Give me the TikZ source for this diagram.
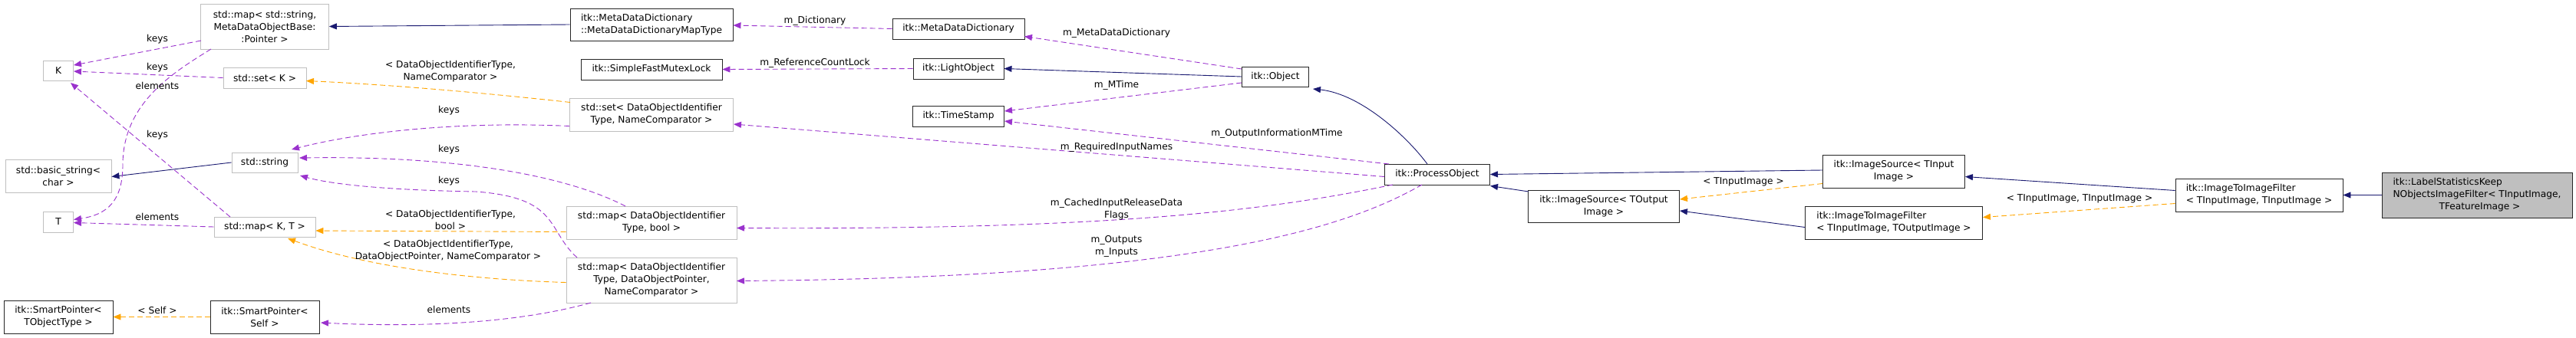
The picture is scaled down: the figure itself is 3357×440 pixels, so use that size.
\documentclass[tikz,border=0pt]{standalone}
\usepackage{fontspec}
\setmainfont{DejaVu Sans}
\usetikzlibrary{arrows.meta}
\definecolor{navy}{HTML}{191970}
\definecolor{purp}{HTML}{9A32CD}
\definecolor{orng}{HTML}{FFA500}
\definecolor{gbord}{HTML}{BFBFBF}
\begin{document}
\begin{tikzpicture}[x=1pt,y=-1pt,
  font=\fontsize{12.2}{16}\selectfont,
  box/.style={draw=black!85,line width=0.9pt,inner sep=0pt,align=center,fill=white},
  gbox/.style={box,draw=gbord},
  lbl/.style={inner sep=0pt,align=center},
  tip/.style={-{Triangle[length=10pt,width=8pt,fill=#1]}},
  inh/.style={tip=navy,draw=navy,line width=0.9pt},
  mem/.style={tip=purp,draw=purp,line width=0.9pt,dash pattern=on 7pt off 4pt},
  tpl/.style={tip=orng,draw=orng,line width=0.9pt,dash pattern=on 7pt off 4pt}]
\useasboundingbox (0,0) rectangle (3357,440);
% nodes
\node[gbox,minimum width=167,minimum height=59] (mapSS) at (345,34.5) {std::map< std::string,\\MetaDataObjectBase:\\:Pointer >};
\node[gbox,minimum width=39,minimum height=26] (K) at (76,92) {K};
\node[gbox,minimum width=108,minimum height=27] (setK) at (345,101.5) {std::set< K >};
\node[gbox,minimum width=86,minimum height=26] (str) at (345,212) {std::string};
\node[gbox,minimum width=138,minimum height=43] (bstr) at (76,229.5) {std::basic\_string<\\char >};
\node[gbox,minimum width=39,minimum height=27] (T) at (76,289.5) {T};
\node[gbox,minimum width=132,minimum height=26] (mapKT) at (345,296) {std::map< K, T >};
\node[box,minimum width=142,minimum height=43] (SPT) at (76,413.5) {itk::SmartPointer<\\TObjectType >};
\node[box,minimum width=142,minimum height=43] (SPS) at (345,413.5) {itk::SmartPointer<\\Self >};
\node[box,minimum width=212,minimum height=42,align=left] (MDDMap) at (849,32) {itk::MetaDataDictionary\\::MetaDataDictionaryMapType};
\node[box,minimum width=184,minimum height=27] (SFML) at (849,90.5) {itk::SimpleFastMutexLock};
\node[gbox,minimum width=213,minimum height=43] (setDOI) at (849,149.5) {std::set< DataObjectIdentifier\\Type, NameComparator >};
\node[gbox,minimum width=222,minimum height=43] (mDb) at (849,290.5) {std::map< DataObjectIdentifier\\Type, bool >};
\node[gbox,minimum width=222,minimum height=59] (mDp) at (849,365.5) {std::map< DataObjectIdentifier\\Type, DataObjectPointer,\\NameComparator >};
\node[box,minimum width=172,minimum height=27] (MDD) at (1249,37.5) {itk::MetaDataDictionary};
\node[box,minimum width=118,minimum height=27] (LO) at (1249,89.5) {itk::LightObject};
\node[box,minimum width=119,minimum height=27] (TS) at (1249,151.5) {itk::TimeStamp};
\node[box,minimum width=87,minimum height=26] (Obj) at (1662,100) {itk::Object};
\node[box,minimum width=137,minimum height=27] (PO) at (1873,227.5) {itk::ProcessObject};
\node[box,minimum width=197,minimum height=42] (ISO) at (2090,269) {itk::ImageSource< TOutput\\Image >};
\node[box,minimum width=185,minimum height=43] (ISI) at (2468,223.5) {itk::ImageSource< TInput\\Image >};
\node[box,minimum width=231,minimum height=43,align=left] (FTO) at (2468,290.5) {itk::ImageToImageFilter\\< TInputImage, TOutputImage >};
\node[box,minimum width=218,minimum height=43,align=left] (FTI) at (2944,254.5) {itk::ImageToImageFilter\\< TInputImage, TInputImage >};
\node[box,fill=gbord,minimum width=248,minimum height=59,align=left] (Lab) at (3228,254.5) {itk::LabelStatisticsKeep\\NObjectsImageFilter< TInputImage,\\\hspace*{60pt}TFeatureImage >};
% inheritance
\draw[inh] (MDDMap.west) -- (mapSS.east);
\draw[inh] (str.west) -- ([yshift=-1]bstr.east);
\draw[inh] (Obj.west) -- (LO.east);
\draw[inh] ([shift={(-13,-13.5)}]PO.center) .. controls ([shift={(-40,-50)}]PO.center) and ([shift={(-100,-105)}]PO.center) .. ([shift={(49,16)}]Obj.center);
\draw[inh] ([yshift=1.5]ISI.west) -- (PO.east);
\draw[inh] ([shift={(-98,-19)}]ISO.center) -- ([shift={(69,15)}]PO.center);
\draw[inh] ([yshift=-6]FTO.west) -- ([yshift=-6]ISO.east);
\draw[inh] ([yshift=6]FTI.west) -- ([yshift=-7]ISI.east);
\draw[inh] (Lab.west) -- (FTI.east);
% members
\draw[mem] ([shift={(-83,18.5)}]mapSS.center) -- ([shift={(20,-7)}]K.center);
\node[lbl] (l1) at (205,51) {keys};
\draw[mem] (setK.west) -- ([yshift=-1]K.east);
\node[lbl] (l2) at (205,88) {keys};
\draw[mem] ([shift={(-45,-13)}]mapKT.center) -- ([shift={(16,16)}]K.center);
\node[lbl] (l4) at (205,176) {keys};
\draw[mem] ([shift={(-70,29.5)}]mapSS.center) .. controls (225,95) and (160,135) .. (160,215) .. controls (160,262) and (140,280) .. ([shift={(20,-3)}]T.center);
\node[lbl] (l3) at (205,112) {elements};
\draw[mem] (mapKT.west) -- ([yshift=-1]T.east);
\node[lbl] (l5) at (205,283) {elements};
\draw[mem] ([yshift=-15]setDOI.west) .. controls (600,158) and (470,172) .. ([shift={(35,-17)}]str.center);
\node[lbl] (l6) at (585,144) {keys};
\draw[mem] ([shift={(-34,-21.5)}]mDb.center) .. controls (740,230) and (600,203) .. ([shift={(45,-6)}]str.center);
\node[lbl] (l7) at (585,195) {keys};
\draw[mem] ([shift={(-97,-29.5)}]mDp.center) .. controls (712,300) and (730,258) .. (620,250) .. controls (500,248) and (430,240) .. ([shift={(46,17)}]str.center);
\node[lbl] (l8) at (585,236) {keys};
\draw[mem] ([shift={(-79,29.5)}]mDp.center) .. controls (680,420) and (560,428) .. ([shift={(73,7.5)}]SPS.center);
\node[lbl] (l9) at (585,404) {elements};
\draw[mem] (MDD.west) -- ([yshift=-1]MDDMap.east);
\node[lbl] (l10) at (1062,27) {m\_Dictionary};
\draw[mem] (LO.west) -- (SFML.east);
\node[lbl] (l11) at (1062,82) {m\_ReferenceCountLock};
\draw[mem] ([shift={(-44,-10)}]Obj.center) -- ([shift={(86,10)}]MDD.center);
\node[lbl] (l12) at (1455,43) {m\_MetaDataDictionary};
\draw[mem] ([shift={(-44,8)}]Obj.center) -- ([shift={(60,-6.5)}]TS.center);
\node[lbl] (l13) at (1455,111) {m\_MTime};
\draw[mem] ([shift={(-63,-13.5)}]PO.center) -- ([shift={(60,6.5)}]TS.center);
\node[lbl] (l14) at (1664,174) {m\_OutputInformationMTime};
\draw[mem] ([yshift=-3]PO.west) -- ([shift={(107,12.5)}]setDOI.center);
\node[lbl] (l15) at (1455,192) {m\_RequiredInputNames};
\draw[mem] ([shift={(-58,13.5)}]PO.center) .. controls (1650,275) and (1450,300) .. ([shift={(111,7)}]mDb.center);
\node[lbl] (l16) at (1455,273) {m\_CachedInputReleaseData\\Flags};
\draw[mem] ([shift={(-20,13.5)}]PO.center) .. controls (1750,300) and (1550,362) .. ([shift={(111,1)}]mDp.center);
\node[lbl] (l17) at (1455,321) {m\_Outputs\\m\_Inputs};
% templates
\draw[tpl] ([shift={(-106,-16)}]setDOI.center) .. controls (620,120) and (500,110) .. ([shift={(54,4)}]setK.center);
\node[lbl] (t1) at (587,93) {< DataObjectIdentifierType,\\NameComparator >};
\draw[tpl] ([yshift=-12]mDb.west) -- ([yshift=-5]mapKT.east);
\node[lbl] (t2) at (587,287) {< DataObjectIdentifierType,\\bool >};
\draw[tpl] ([yshift=-3]mDp.west) .. controls (620,365) and (480,350) .. ([shift={(30,15)}]mapKT.center);
\node[lbl] (t3) at (584,327) {< DataObjectIdentifierType,\\DataObjectPointer, NameComparator >};
\draw[tpl] (SPS.west) -- (SPT.east);
\node[lbl] (t4) at (205,405) {< Self >};
\draw[tpl] ([yshift=-16]ISI.west) -- ([yshift=9]ISO.east);
\node[lbl] (t5) at (2272,237) {< TInputImage >};
\draw[tpl] ([yshift=-11]FTI.west) -- ([yshift=7]FTO.east);
\node[lbl] (t6) at (2710,259) {< TInputImage, TInputImage >};
\end{tikzpicture}
\end{document}
